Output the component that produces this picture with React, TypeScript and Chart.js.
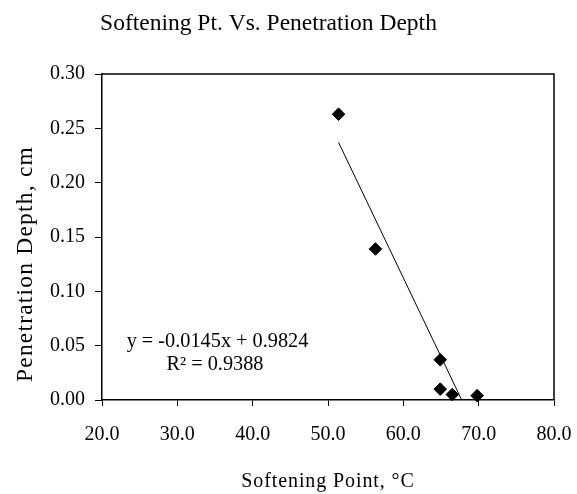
import React, { useEffect, useRef } from 'react';
import { Chart, registerables } from 'chart.js';

Chart.register(...registerables);

// ---- data ----
const softeningPoint = [51.4, 56.3, 64.9, 64.9, 66.5, 69.8];
const penetrationDepth = [0.263, 0.139, 0.037, 0.010, 0.005, 0.004];
const trendSlope = -0.0145;
const trendIntercept = 0.9824;
const rSquared = 0.9388;
const xTickValues = [20, 30, 40, 50, 60, 70, 80];
const yTickValues = [0, 0.05, 0.1, 0.15, 0.2, 0.25, 0.3];
const chartTitle = 'Softening Pt. Vs. Penetration Depth';
const xAxisTitle = 'Softening Point, °C';
const yAxisTitle = 'Penetration Depth, cm';
const equationText = `y = ${trendSlope.toFixed(4)}x + ${trendIntercept.toFixed(4)}`;
const r2Text = `R² = ${rSquared.toFixed(4)}`;

const FONT = "'Liberation Serif', 'Times New Roman', serif";

export default function App() {
  const canvasRef = useRef<HTMLCanvasElement | null>(null);

  useEffect(() => {
    document.body.style.margin = '0';
    document.body.style.overflow = 'hidden';
    const canvas = canvasRef.current;
    if (!canvas) return;

    const xMin = Math.min(...softeningPoint);
    const xMax = Math.max(...softeningPoint);
    const trendX = [xMin, xMax];
    const trendData = trendX.map((x) => ({ x, y: trendSlope * x + trendIntercept }));
    const pointData = softeningPoint.map((x, i) => ({ x, y: penetrationDepth[i] }));

    const textPlugin = {
      id: 'textPlugin',
      afterDraw(chart: any) {
        const ctx = chart.ctx as CanvasRenderingContext2D;
        const area = chart.chartArea;
        ctx.save();
        // frame top & right
        ctx.strokeStyle = '#000';
        ctx.lineWidth = 1.5;
        ctx.beginPath();
        ctx.moveTo(area.left, area.top);
        ctx.lineTo(area.right, area.top);
        ctx.lineTo(area.right, area.bottom);
        ctx.stroke();

        ctx.fillStyle = '#000';
        // main title
        ctx.font = `23.5px ${FONT}`;
        ctx.textAlign = 'center';
        ctx.textBaseline = 'alphabetic';
        ctx.fillText(chartTitle, 268.5, 30);

        // x axis title
        (ctx as any).letterSpacing = '0.9px';
        ctx.font = `20px ${FONT}`;
        ctx.fillText(xAxisTitle, (area.left + area.right) / 2, 487);

        // y axis title
        ctx.save();
        (ctx as any).letterSpacing = '1.2px';
        ctx.font = `23.5px ${FONT}`;
        ctx.translate(32, 264);
        ctx.rotate(-Math.PI / 2);
        ctx.fillText(yAxisTitle, 0, 0);
        ctx.restore();

        // equation
        (ctx as any).letterSpacing = '0px';
        ctx.font = `20.3px ${FONT}`;
        ctx.textBaseline = 'middle';
        ctx.fillText(equationText, area.left + 115.5, 342);
        ctx.fillText(r2Text, area.left + 113, 365);
        ctx.restore();
      },
    };

    const chart = new Chart(canvas, {
      type: 'scatter',
      data: {
        datasets: [
          {
            label: 'Penetration Depth',
            data: pointData,
            pointStyle: 'rectRot',
            pointRadius: 6.3,
            pointBorderWidth: 1,
            backgroundColor: '#000',
            borderColor: '#000',
            showLine: false,
            clip: false as any,
          },
          {
            label: 'Linear trend',
            data: trendData,
            showLine: true,
            pointRadius: 0,
            borderColor: '#000',
            borderWidth: 1,
            clip: 0 as any,
          },
        ],
      },
      options: {
        animation: false,
        responsive: true,
        maintainAspectRatio: false,
        layout: { padding: { top: 74, right: 23, left: 0, bottom: 0 } },
        plugins: {
          legend: { display: false },
          tooltip: { enabled: false },
          title: { display: false },
        },
        scales: {
          x: {
            type: 'linear',
            min: xTickValues[0],
            max: xTickValues[xTickValues.length - 1],
            afterBuildTicks(scale: any) {
              scale.ticks = xTickValues.map((v) => ({ value: v }));
            },
            afterFit(scale: any) {
              scale.height = 94;
              scale.paddingLeft = 0;
              scale.paddingRight = 0;
            },
            ticks: {
              color: '#000',
              font: { family: FONT, size: 20 },
              padding: 17,
              maxRotation: 0,
              callback: (v: any) => Number(v).toFixed(1),
            },
            grid: {
              display: true,
              drawOnChartArea: false,
              drawTicks: true,
              tickLength: 6,
              color: '#000',
              lineWidth: 1,
            },
            border: { display: true, color: '#000', width: 1.5 },
          },
          y: {
            type: 'linear',
            min: yTickValues[0],
            max: yTickValues[yTickValues.length - 1],
            afterBuildTicks(scale: any) {
              scale.ticks = yTickValues.map((v) => ({ value: v }));
            },
            afterFit(scale: any) {
              scale.width = 102;
              scale.paddingTop = 0;
              scale.paddingBottom = 0;
            },
            ticks: {
              color: '#000',
              font: { family: FONT, size: 20 },
              padding: 10,
              callback: (v: any) => Number(v).toFixed(2),
            },
            grid: {
              display: true,
              drawOnChartArea: false,
              drawTicks: true,
              tickLength: 7,
              color: '#000',
              lineWidth: 1,
            },
            border: { display: true, color: '#000', width: 1.5 },
          },
        },
      },
      plugins: [textPlugin],
    });

    return () => chart.destroy();
  }, []);

  return (
    <div style={{ width: '577px', height: '494px', position: 'relative' }}>
      <canvas ref={canvasRef} />
    </div>
  );
}
